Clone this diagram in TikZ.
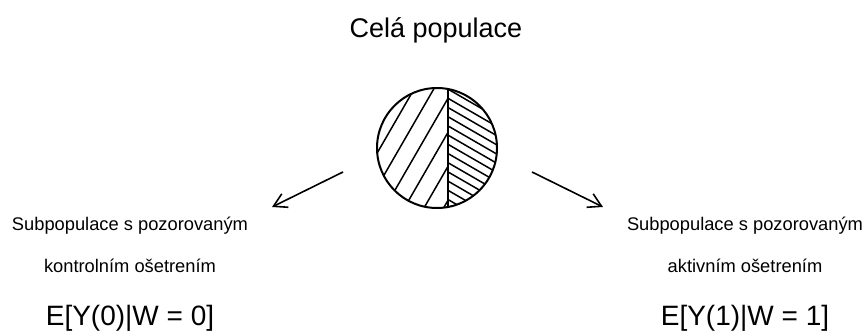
\documentclass[tikz,border=0pt]{standalone}
\usepackage{fontspec}
\setmainfont{Liberation Sans}
\usetikzlibrary{arrows.meta, positioning, calc}

\begin{document}
\begin{tikzpicture}[
    x=1pt, y=-1pt,
    heading/.style = {anchor=base, font=\fontsize{27}{32}\selectfont},
    subtext/.style = {anchor=base, font=\fontsize{18.3}{22}\selectfont},
    expect/.style = {anchor=base, font=\fontsize{28}{34}\selectfont},
    hatch/.style = {draw=black, line width=1.5pt},
    branch/.style = {draw=black, line width=1.6pt, -{Straight Barb[length=13pt, width=15pt]}}
]
\useasboundingbox (0,0) rectangle (864,332);

% Title
\node (title) [heading] at (436, 37) {Celá populace};

% Population circle
\node (pop) [circle, draw, line width=2pt, minimum size=120pt, inner sep=0pt] at (437, 148) {};

% Hatching
\begin{scope}
  \clip (pop.center) circle (60);
  \begin{scope}
    \clip (370, 80) rectangle (448, 215);
    \foreach \k [evaluate=\k as \yk using 98.3+34*\k] in {-4,...,4}
      \draw [hatch] (298, \yk+259.8) -- (468, \yk-34.6);
  \end{scope}
  \begin{scope}
    \clip (448, 80) rectangle (505, 215);
    \foreach \j [evaluate=\j as \yj using 98.3+9.2*\j] in {-2,...,13}
      \draw [hatch] (440, \yj-4.6) -- (510, \yj+35.8);
  \end{scope}
\end{scope}
\draw [line width=2pt] ($(pop.center)+(11,-59)$) -- ($(pop.center)+(11,59)$);

% Branches
\coordinate (lfrom) at (343, 172);
\coordinate (lto) at (272, 207);
\coordinate (rfrom) at (532, 172);
\coordinate (rto) at (603, 207);
\draw [branch] (lfrom) -- (lto);
\draw [branch] (rfrom) -- (rto);

% Subpopulations
\node (ctrlA) [subtext] at (130, 230) {Subpopulace s pozorovaným};
\node (ctrlB) [subtext] at (130, 272) {kontrolním ošetrením};
\node (ctrlE) [expect] at (130, 325) {E[Y(0)|W = 0]};
\node (actA) [subtext] at (745, 230) {Subpopulace s pozorovaným};
\node (actB) [subtext] at (745, 272) {aktivním ošetrením};
\node (actE) [expect] at (745, 325) {E[Y(1)|W = 1]};

\end{tikzpicture}
\end{document}
